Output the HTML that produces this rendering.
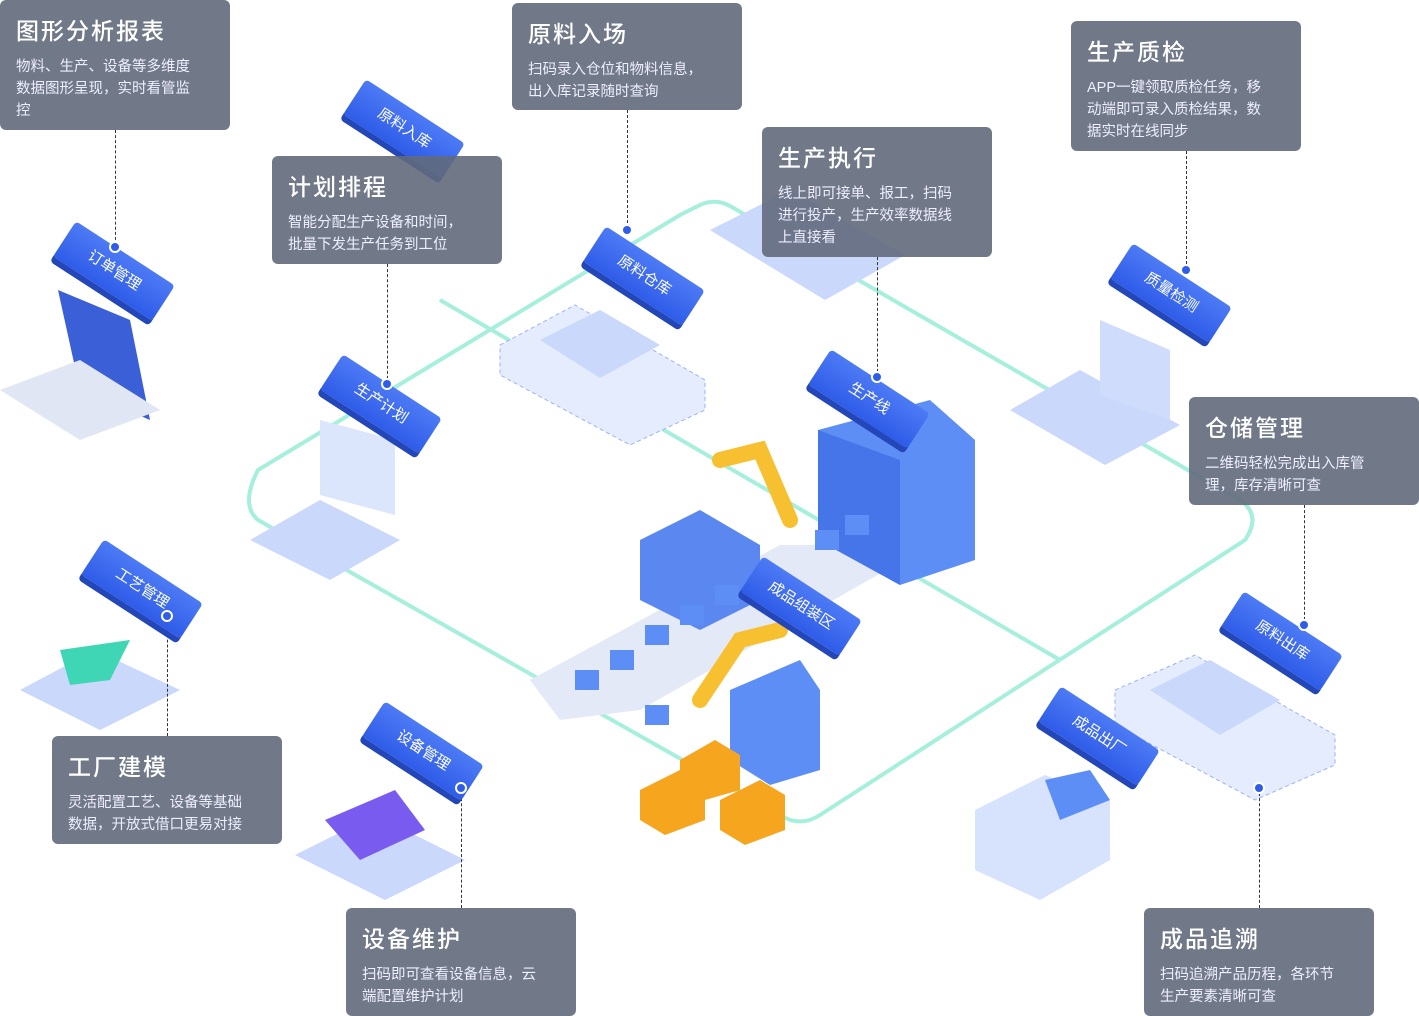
<!DOCTYPE html>
<html><head><meta charset="utf-8"><style>
body{margin:0;width:1419px;height:1016px;background:#fff;position:relative;overflow:hidden;font-family:"Liberation Sans","Noto Sans CJK SC",sans-serif}
.box{position:absolute;background:rgba(98,106,124,0.9);border-radius:6px;color:#fff;box-sizing:border-box;padding:12px 34px 12px 16px}
.box h3{margin:0 0 10px;font-size:23px;font-weight:500;letter-spacing:2px}
.box p{margin:0;font-size:14.5px;line-height:22px;color:#eef}
.tag{position:absolute;width:118px;height:42px;background:linear-gradient(#4d7bf5,#2f5ce8);color:#fff;font-size:15px;line-height:42px;text-align:center;transform:rotate(33deg);border-radius:4px;box-shadow:0 6px 0 #2346b8}
.dash{position:absolute;border-left:1px dashed #333;width:0}
.dot{position:absolute;width:12px;height:12px;border-radius:50%;background:#2f5ce8;border:2px solid #fff;box-sizing:border-box}
svg{position:absolute;left:0;top:0}
</style></head><body>
<svg width="1419" height="1016">
<path d="M700 205 Q715 198 730 206 L1240 500 Q1262 515 1245 540 L820 815 Q800 828 780 815 L258 520 Q240 505 258 470 L680 215 Z" fill="none" stroke="#a6efdc" stroke-width="4"/>
<path d="M440 300 L1060 660" stroke="#a6efdc" stroke-width="4"/>
<g fill="#e4ecfd" stroke="#9ab3f5" stroke-dasharray="4 3"><polygon points="500,345 575,305 705,380 705,410 630,445 500,375"/><polygon points="1115,690 1195,655 1335,735 1335,765 1255,800 1115,725"/></g>
<g fill="#c9d8fb"><polygon points="540,340 600,310 660,345 600,378"/><polygon points="1150,690 1210,660 1280,700 1220,735"/><polygon points="710,230 790,190 905,255 825,300"/><polygon points="250,540 320,500 400,540 330,580"/><polygon points="20,690 95,650 180,690 100,730"/><polygon points="295,855 375,815 465,860 385,900"/><polygon points="1010,410 1080,370 1180,425 1105,465"/></g>
<polygon points="530,680 780,545 895,545 895,565 640,710 560,720" fill="#e3e9f7"/>
<polygon points="818,430 930,400 975,440 975,560 900,585 818,540" fill="#5d8ef5"/>
<polygon points="818,430 900,460 900,585 818,540" fill="#4675ea"/>
<polygon points="640,540 700,510 760,545 760,600 700,630 640,600" fill="#5a87f0"/>
<polygon points="730,690 800,660 820,690 820,770 770,785 730,760" fill="#5d8ef5"/>
<path d="M720 460 L760 450 L790 520 M700 700 L740 640 L780 630" stroke="#f7c030" stroke-width="16" fill="none" stroke-linecap="round"/>
<g fill="#f6a51f"><polygon points="640,790 680,770 705,785 705,820 665,835 640,820"/><polygon points="720,800 760,780 785,795 785,830 745,845 720,830"/><polygon points="680,760 715,740 740,755 740,790 705,800 680,785"/></g>
<g fill="#5d8ef5"><rect x="610" y="650" width="24" height="20"/><rect x="645" y="625" width="24" height="20"/><rect x="680" y="605" width="24" height="20"/><rect x="715" y="585" width="24" height="20"/><rect x="575" y="670" width="24" height="20"/><rect x="645" y="705" width="24" height="20"/><rect x="815" y="530" width="24" height="20"/><rect x="845" y="515" width="24" height="20"/></g>
<polygon points="58,290 130,320 150,420 80,390" fill="#3a5fd6"/><polygon points="0,390 80,360 160,410 80,440" fill="#e0e6f3"/>
<polygon points="60,650 130,640 110,680 70,685" fill="#3ed6b5"/>
<polygon points="325,820 395,790 425,830 360,860" fill="#7a5bf0"/>
<polygon points="975,810 1045,775 1110,800 1110,860 1040,900 975,870" fill="#d7e3fd"/><polygon points="1045,780 1090,770 1110,800 1060,820" fill="#5d8ef5"/>
<polygon points="320,420 395,440 395,515 320,495" fill="#dbe5fb"/>
<polygon points="1100,320 1170,350 1170,420 1100,395" fill="#cfdcfb"/>
</svg>
<div class="dash" style="left:115px;top:130px;height:115px"></div>
<div class="dash" style="left:627px;top:110px;height:118px"></div>
<div class="dash" style="left:1186px;top:151px;height:118px"></div>
<div class="dash" style="left:387px;top:264px;height:120px"></div>
<div class="dash" style="left:877px;top:257px;height:120px"></div>
<div class="dash" style="left:1304px;top:505px;height:120px"></div>
<div class="dash" style="left:167px;top:615px;height:121px"></div>
<div class="dash" style="left:461px;top:788px;height:120px"></div>
<div class="dash" style="left:1259px;top:788px;height:120px"></div>
<div class="tag" style="left:55px;top:250px">订单管理</div>
<div class="tag" style="left:345px;top:108px">原料入库</div>
<div class="tag" style="left:585px;top:255px">原料仓库</div>
<div class="tag" style="left:322px;top:383px">生产计划</div>
<div class="tag" style="left:810px;top:378px">生产线</div>
<div class="tag" style="left:1112px;top:272px">质量检测</div>
<div class="tag" style="left:83px;top:568px">工艺管理</div>
<div class="tag" style="left:742px;top:585px">成品组装区</div>
<div class="tag" style="left:1223px;top:620px">原料出库</div>
<div class="tag" style="left:1040px;top:715px">成品出厂</div>
<div class="tag" style="left:364px;top:730px">设备管理</div>
<div class="dot" style="left:109px;top:241px"></div>
<div class="dot" style="left:621px;top:224px"></div>
<div class="dot" style="left:1180px;top:264px"></div>
<div class="dot" style="left:381px;top:378px"></div>
<div class="dot" style="left:871px;top:371px"></div>
<div class="dot" style="left:1298px;top:619px"></div>
<div class="dot" style="left:161px;top:610px"></div>
<div class="dot" style="left:455px;top:782px"></div>
<div class="dot" style="left:1253px;top:782px"></div>
<div class="box" style="left:0;top:0;width:230px;height:130px"><h3>图形分析报表</h3><p>物料、生产、设备等多维度数据图形呈现，实时看管监控</p></div>
<div class="box" style="left:512px;top:3px;width:230px;height:107px"><h3>原料入场</h3><p>扫码录入仓位和物料信息，出入库记录随时查询</p></div>
<div class="box" style="left:1071px;top:21px;width:230px;height:130px"><h3>生产质检</h3><p>APP一键领取质检任务，移动端即可录入质检结果，数据实时在线同步</p></div>
<div class="box" style="left:272px;top:156px;width:230px;height:108px"><h3>计划排程</h3><p>智能分配生产设备和时间，批量下发生产任务到工位</p></div>
<div class="box" style="left:762px;top:127px;width:230px;height:130px"><h3>生产执行</h3><p>线上即可接单、报工，扫码进行投产，生产效率数据线上直接看</p></div>
<div class="box" style="left:1189px;top:397px;width:230px;height:108px"><h3>仓储管理</h3><p>二维码轻松完成出入库管理，库存清晰可查</p></div>
<div class="box" style="left:52px;top:736px;width:230px;height:108px"><h3>工厂建模</h3><p>灵活配置工艺、设备等基础数据，开放式借口更易对接</p></div>
<div class="box" style="left:346px;top:908px;width:230px;height:108px"><h3>设备维护</h3><p>扫码即可查看设备信息，云端配置维护计划</p></div>
<div class="box" style="left:1144px;top:908px;width:230px;height:108px"><h3>成品追溯</h3><p>扫码追溯产品历程，各环节生产要素清晰可查</p></div>
</body></html>
